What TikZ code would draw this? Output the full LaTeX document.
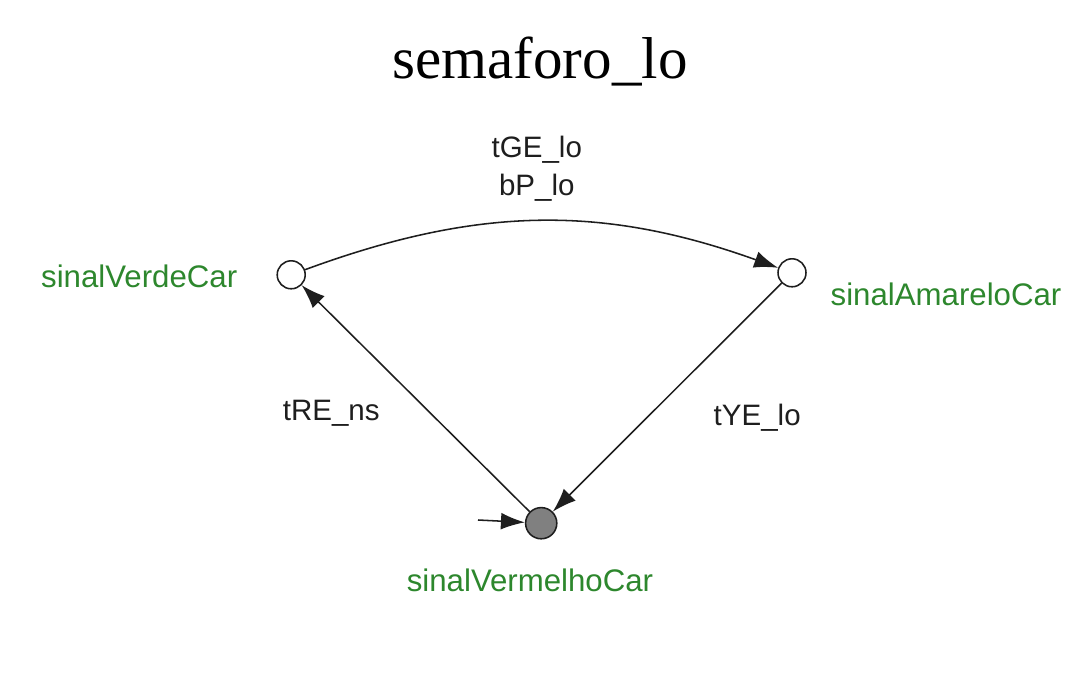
\documentclass[tikz,border=0pt]{standalone}
\usepackage{fontspec}
\setmainfont{Liberation Serif}
\setsansfont{Liberation Sans}
\usetikzlibrary{arrows.meta}
\definecolor{leafgreen}{RGB}{45, 135, 45}
\definecolor{inkgray}{RGB}{30, 30, 30}
\definecolor{stategray}{RGB}{128, 128, 128}

\begin{document}
\begin{tikzpicture}[
    state/.style     = {circle, draw=inkgray, line width=1.1pt, fill=white, minimum size=0.7cm, inner sep=0pt},
    initstate/.style = {state, fill=stategray, minimum size=0.78cm},
    statename/.style = {text=leafgreen, font=\sffamily\fontsize{22.2}{26}\selectfont},
    trans/.style     = {text=inkgray, font=\sffamily\fontsize{21}{27}\selectfont, align=center},
    edge/.style      = {draw=inkgray, line width=1.1pt, -{Latex[length=17pt, width=12pt]}}
]
            \useasboundingbox                                         ( 0.00, 0.00) rectangle (27.00,17.00);
            \node[font=\fontsize{42}{48}\selectfont] (title)       at (13.50,15.45) {semaforo\_lo};
            % states
            \node[state]     (verde)                               at ( 7.28,10.13) {};
            \node[state]     (amarelo)                             at (19.80,10.18) {};
            \node[initstate] (vermelho)                            at (13.53, 3.92) {};
            \node[statename] (verdename)                           at ( 3.48,10.08) {sinalVerdeCar};
            \node[statename] (amarelonname)                        at (23.65, 9.65) {sinalAmareloCar};
            \node[statename] (vermelhoname)                        at (13.25, 2.50) {sinalVermelhoCar};
            \coordinate      (start)                               at (11.95, 4.00);
            % transitions
            \draw[edge] (verde)    to[bend left=20] (amarelo);
            \draw[edge] (amarelo)  -- (vermelho);
            \draw[edge] (vermelho) -- (verde);
            \draw[edge] (start)    -- (vermelho);
            \node[trans]     (tge)                                 at (13.42,12.78) {tGE\_lo\\bP\_lo};
            \node[trans]     (tre)                                 at ( 8.28, 6.68) {tRE\_ns};
            \node[trans]     (tye)                                 at (18.93, 6.55) {tYE\_lo};
        \end{tikzpicture}
\end{document}
